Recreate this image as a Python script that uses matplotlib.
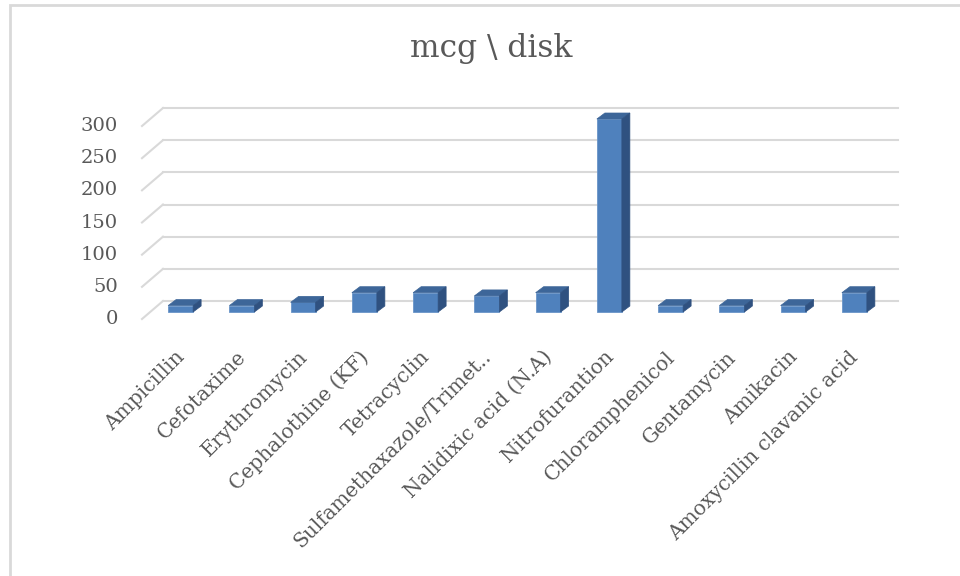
import matplotlib.pyplot as plt
from matplotlib.patches import Polygon, Rectangle

# data
drugs = ["Ampicillin", "Cefotaxime", "Erythromycin", "Cephalothine (KF)",
         "Tetracyclin", "Sulfamethaxazole/Trimet..", "Nalidixic acid (N.A)",
         "Nitrofurantion", "Chloramphenicol", "Gentamycin", "Amikacin",
         "Amoxycillin clavanic acid"]
mcg = [10, 10, 15, 30, 30, 25, 30, 300, 10, 10, 10, 30]
yticks = [0, 50, 100, 150, 200, 250, 300]
title = "mcg \\ disk"

plt.rcParams['font.family'] = ['DejaVu Serif', 'DejaVu Sans']
txt = "#595959"
grid_c = "#D9D9D9"

fig = plt.figure(figsize=(9.6, 5.76), dpi=100)
W, H = 960, 576
# back wall of the 3d plot, in pixels
left, right, top, bottom = 163, 898, 108, 301
ax = fig.add_axes([left / W, (H - bottom) / H, (right - left) / W, (bottom - top) / H])
n = len(drugs)
ax.set_xlim(-0.5, n - 0.5)
ax.set_ylim(0, 300)
ax.axis("off")

# pixel -> data units
sx = n / (right - left)
sy = 300 / (bottom - top)

# chart border
fig.patches.append(Rectangle((10 / W, -0.1), 1.2, (H - 5) / H + 0.1, transform=fig.transFigure,
                             fill=False, edgecolor="#D9D9D9", lw=2))

# gridlines on back wall + floor diagonals + tick labels
for t in yticks:
    ax.plot([-0.5, n - 0.5], [t, t], color=grid_c, lw=1.5, clip_on=False, zorder=1)
    ax.plot([-0.5, -0.5 - 21 * sx], [t, t - 18 * sy], color=grid_c, lw=1.5,
            clip_on=False, zorder=1)
    ax.text(-0.5 - 45 * sx, t - 18 * sy, str(t), ha="right", va="center",
            fontsize=14, color=txt)

# bars with pseudo-3d sides
fx, fy = -13 * sx, -11 * sy
dx, dy = 8 * sx, 6 * sy
w = 25 * sx
xs = [i + fx for i in range(n)]
ax.bar(xs, mcg, width=w, bottom=fy, color="#4F81BD", edgecolor="#6A95C8",
       lw=0.6, clip_on=False, zorder=3)
for x, v in zip(xs, mcg):
    xl, xr = x - w / 2, x + w / 2
    top_face = Polygon([(xl, fy + v), (xr, fy + v), (xr + dx, fy + v + dy), (xl + dx, fy + v + dy)],
                       closed=True, facecolor="#3D6699", edgecolor="#3D6699", lw=0.5,
                       clip_on=False, zorder=3)
    side = Polygon([(xr, fy), (xr, fy + v), (xr + dx, fy + v + dy), (xr + dx, fy + dy)],
                   closed=True, facecolor="#2F5180", edgecolor="#2F5180", lw=0.5,
                   clip_on=False, zorder=3)
    ax.add_patch(top_face)
    ax.add_patch(side)

# category labels
for x, name in zip(xs, drugs):
    ax.text(x + 1 * sx, -(354 - bottom) * sy, name, rotation=45, rotation_mode="anchor",
            ha="right", va="center", fontsize=14.5, color=txt)

fig.text(491 / W, 1 - 48 / H, title, ha="center", va="center", fontsize=22.5, color=txt)

fig.savefig("out.png", dpi=100)
